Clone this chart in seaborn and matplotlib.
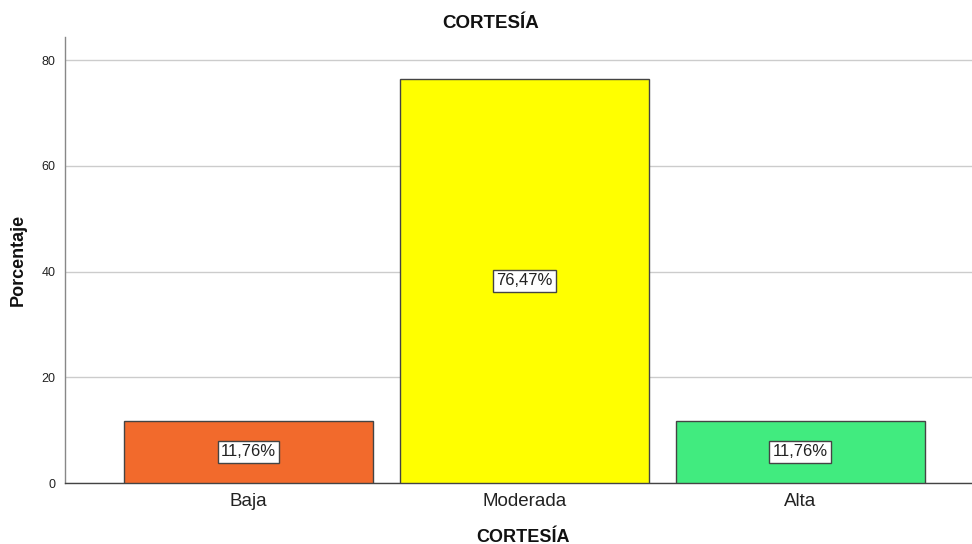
import matplotlib
matplotlib.use("Agg")
import matplotlib.pyplot as plt
import seaborn as sns
import pandas as pd

categories = ["Baja", "Moderada", "Alta"]
values = [11.76, 76.47, 11.76]
labels = ["11,76%", "76,47%", "11,76%"]
colors = ["#F26A2C", "#FFFF00", "#41EB7F"]
yticks = [0, 20, 40, 60, 80]

sns.set_theme(style="white")
plt.rcParams['font.family'] = ['Liberation Sans', 'DejaVu Sans']

df = pd.DataFrame({"cat": categories, "val": values})

fig = plt.figure(figsize=(9.72, 5.44), dpi=100)
ax = fig.add_axes([65/972, 1-483/544, 1-65/972, (483-37)/544])

sns.barplot(data=df, x="cat", y="val", hue="cat", palette=colors, legend=False,
            saturation=1, width=0.902, edgecolor="#444444", linewidth=1.0, ax=ax, zorder=3)

ax.set_xlim(-0.665, 2.622)
ax.set_ylim(0, 84.35)
ax.set_yticks(yticks)
ax.set_yticklabels([str(t) for t in yticks], fontsize=9, color="#222222")
ax.tick_params(axis="x", labelsize=13.5, colors="#222222", length=0, pad=7)
ax.tick_params(axis="y", length=4, width=0.8, color="#666666", pad=3)
ax.grid(axis="y", color="#CCCCCC", linewidth=1, zorder=0)
ax.set_axisbelow(True)
for s in ["top", "right"]:
    ax.spines[s].set_visible(False)
ax.spines["left"].set_color("#888888")
ax.spines["left"].set_linewidth(1)
ax.spines["bottom"].set_color("#444444")
ax.spines["bottom"].set_linewidth(1)

ax.set_xlabel("CORTESÍA", fontsize=13, fontweight="bold", color="#111111")
ax.xaxis.set_label_coords((523-65)/(972-65), -(537-483)/(483-37), transform=ax.transAxes)
ax.xaxis.label.set_va("center")
ax.set_ylabel("Porcentaje", fontsize=13, fontweight="bold", color="#111111")
ax.yaxis.set_label_coords(-(65-18)/(972-65), (483-260)/(483-37), transform=ax.transAxes)
ax.yaxis.label.set_va("center")

for i, (v, lab) in enumerate(zip(values, labels)):
    ax.text(i, v / 2, lab, ha="center", va="center", fontsize=12, color="#222222",
            bbox=dict(boxstyle="square,pad=0.2", facecolor="white", edgecolor="#444444", linewidth=1),
            zorder=5)

fig.text(491/972, 1-24/544, "CORTESÍA", ha="center", va="center", fontsize=13.5,
         fontweight="bold", color="#111111")

fig.savefig("out.png", dpi=100)
